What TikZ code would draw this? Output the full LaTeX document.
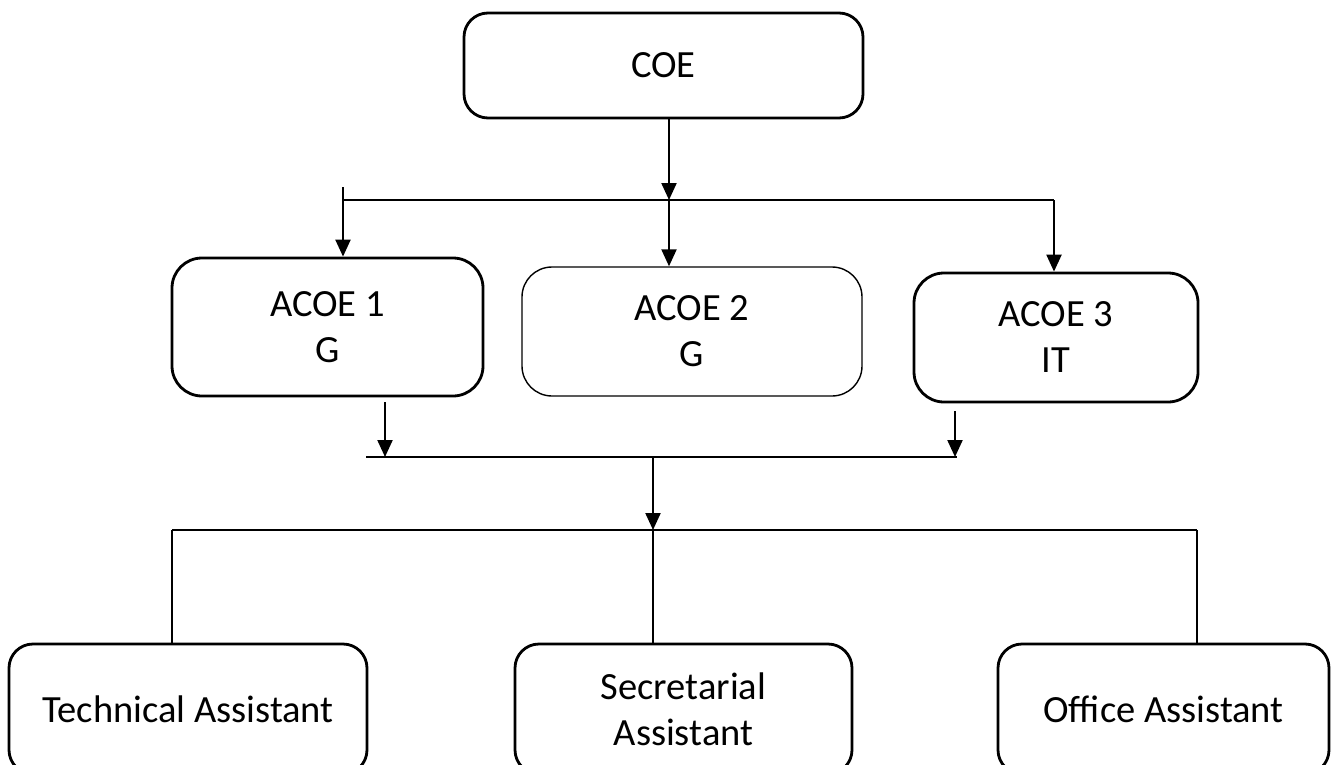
\documentclass[tikz,border=0pt]{standalone}
\usepackage{fontspec}
\setmainfont{Carlito}
\usetikzlibrary{arrows.meta}
\begin{document}
\begin{tikzpicture}[x=1pt,y=-1pt,
  box/.style={draw, line width=2.8pt, rounded corners=24pt, align=center,
    font=\fontsize{38.5}{46}\selectfont, inner sep=0pt},
  acoebox/.style={box, rounded corners=30pt},
  thinbox/.style={acoebox, line width=1.4pt},
  conn/.style={line width=2.2pt},
  arr/.style={conn, -{Triangle[length=17pt,width=15pt]}}]
\clip (0,0) rectangle (1335,765);
% nodes
\node[box, minimum width=399pt, minimum height=105pt] (coe) at (663.5,65.5) {COE};
\node[acoebox, minimum width=311pt, minimum height=138pt] (acoe1) at (327.5,327) {ACOE 1\\G};
\node[thinbox, minimum width=340pt, minimum height=129pt] (acoe2) at (692,331.5) {ACOE 2\\G};
\node[acoebox, minimum width=284pt, minimum height=129pt] (acoe3) at (1056,337.5) {ACOE 3\\IT};
\node[box, minimum width=358pt, minimum height=130pt] (tech) at (188,709) {Technical Assistant};
\node[box, minimum width=337pt, minimum height=130pt] (sec) at (683.5,709) {Secretarial\\Assistant};
\node[box, minimum width=331pt, minimum height=130pt] (off) at (1163.5,709) {Office Assistant};
% junction coordinates
\coordinate (j1) at (669,200);
\coordinate (s1) at (343,187);
\coordinate (r1) at (1054,200);
\coordinate (a1) at (385,402);
\coordinate (a3) at (955,411);
\coordinate (j2) at (653,457);
\coordinate (l2) at (366,457);
\coordinate (r2) at (957,457);
\coordinate (j3) at (653,530);
\coordinate (l3) at (172,530);
\coordinate (r3) at (1197,530);
% first level
\draw[arr] (coe.south -| j1) -- (j1);
\draw[conn] (s1 |- j1) -- (r1);
\draw[arr] (s1) -- (s1 |- acoe1.north);
\draw[arr] (j1) -- (j1 |- acoe2.north);
\draw[arr] (r1) -- (r1 |- acoe3.north);
% second level
\draw[arr] (a1) -- (a1 |- j2);
\draw[arr] (a3) -- (a3 |- j2);
\draw[conn] (l2) -- (r2);
\draw[arr] (j2) -- (j3);
\draw[conn] (l3) -- (r3);
\draw[conn] (l3) -- (l3 |- tech.north);
\draw[conn] (j3) -- (j3 |- sec.north);
\draw[conn] (r3) -- (r3 |- off.north);
\end{tikzpicture}
\end{document}
